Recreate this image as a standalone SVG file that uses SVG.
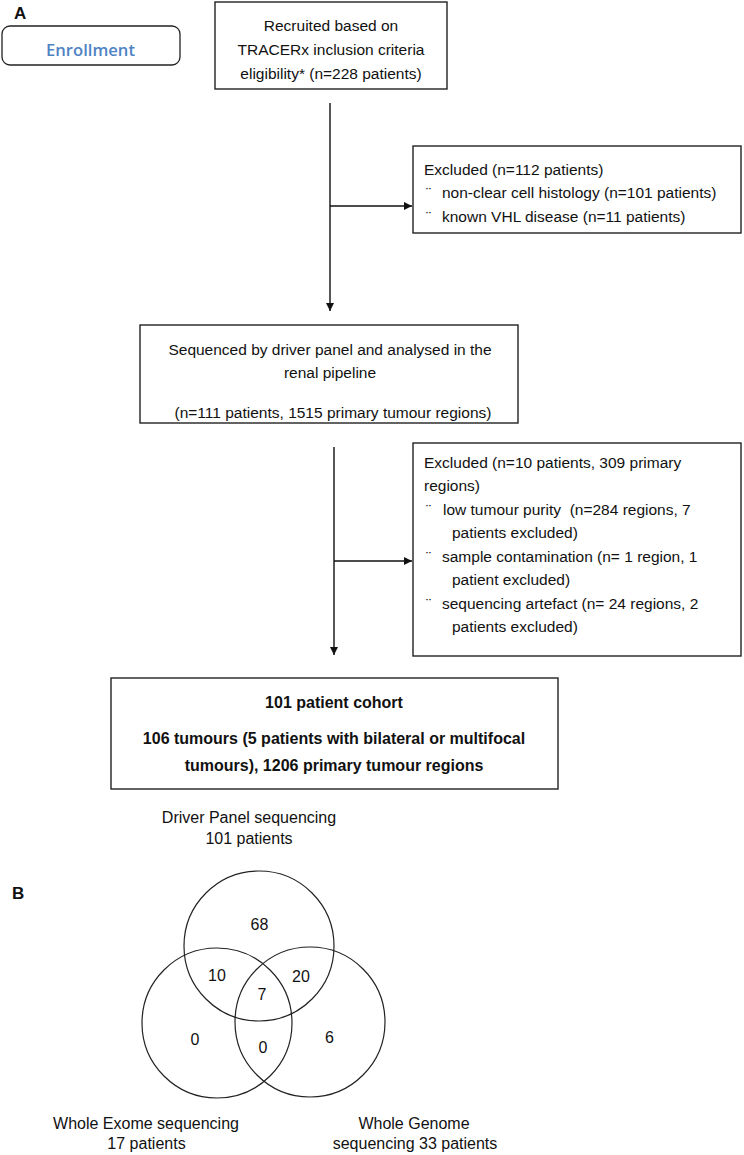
<svg xmlns="http://www.w3.org/2000/svg" width="744" height="1155" viewBox="0 0 744 1155">
<style>
  .bg{fill:#ffffff}
  .box{fill:#ffffff;stroke:#222;stroke-width:1.4}
  .t{font-family:"Liberation Sans",Arial,sans-serif;font-size:15.5px;fill:#111}
  .c{text-anchor:middle}
  .b{font-family:"Liberation Sans",Arial,sans-serif;font-size:16px;font-weight:bold;fill:#111}
  .v{font-family:"Liberation Sans",Arial,sans-serif;font-size:16px;fill:#111;text-anchor:middle}
  .lab{font-family:"Liberation Sans",Arial,sans-serif;font-size:17px;font-weight:bold;fill:#111}
  .pre{white-space:pre}
  .conn{fill:none;stroke:#111;stroke-width:1.4}
  .circ{fill:none;stroke:#222;stroke-width:1.2}
</style>
<defs>
  <marker id="ah" viewBox="0 0 10 10" refX="10" refY="5" markerWidth="8" markerHeight="8" markerUnits="userSpaceOnUse" orient="auto">
    <path d="M0,0 L10,5 L0,10 z" fill="#111"/>
  </marker>
</defs>
<rect class="bg" x="0" y="0" width="744" height="1155"/>

<text class="lab" x="14" y="18.5">A</text>
<text class="lab" x="12" y="898.5">B</text>

<g id="enrollment">
  <rect x="2" y="26" width="178" height="39" rx="8" ry="8" fill="#fff" stroke="#222" stroke-width="1.3"/>
  <text x="90.5" y="55.5" text-anchor="middle" font-family="'Open Sans','Liberation Sans',sans-serif" font-size="17" font-weight="600" fill="#4f83c4" textLength="89" lengthAdjust="spacingAndGlyphs">Enrollment</text>
</g>

<g id="recruited">
  <rect class="box" x="215" y="2" width="232" height="87"/>
  <text class="t c" x="331" y="30.5">Recruited based on</text>
  <text class="t c" x="331" y="54.5">TRACERx inclusion criteria</text>
  <text class="t c" x="331" y="79">eligibility* (n=228 patients)</text>
</g>

<g id="excluded1">
  <rect class="box" x="413" y="146" width="328" height="87"/>
  <text class="t" x="424" y="174.5">Excluded (n=112 patients)</text>
  <text class="t" x="426" y="198">¨</text>
  <text class="t" x="442" y="198">non-clear cell histology (n=101 patients)</text>
  <text class="t" x="426" y="221.5">¨</text>
  <text class="t" x="442" y="221.5">known VHL disease (n=11 patients)</text>
</g>

<g id="sequenced">
  <rect class="box" x="140" y="325" width="378" height="98"/>
  <text class="t c" x="330" y="355">Sequenced by driver panel and analysed in the</text>
  <text class="t c" x="330" y="378">renal pipeline</text>
  <text class="t c" x="333" y="418">(n=111 patients, 1515 primary tumour regions)</text>
</g>

<g id="excluded2">
  <rect class="box" x="413" y="443" width="328" height="213"/>
  <text class="t" x="424" y="467.5">Excluded (n=10 patients, 309 primary</text>
  <text class="t" x="424" y="491">regions)</text>
  <text class="t" x="426" y="514.5">¨</text>
  <text class="t pre" x="443" y="514.5">low tumour purity  (n=284 regions, 7</text>
  <text class="t" x="452" y="538">patients excluded)</text>
  <text class="t" x="426" y="561.5">¨</text>
  <text class="t" x="442" y="561.5">sample contamination (n= 1 region, 1</text>
  <text class="t" x="452" y="585">patient excluded)</text>
  <text class="t" x="426" y="608.5">¨</text>
  <text class="t" x="442" y="608.5">sequencing artefact (n= 24 regions, 2</text>
  <text class="t" x="452" y="632">patients excluded)</text>
</g>

<g id="cohort">
  <rect class="box" x="111" y="678" width="447" height="111"/>
  <text class="b c" x="334" y="708">101 patient cohort</text>
  <text class="b c" x="334" y="744">106 tumours (5 patients with bilateral or multifocal</text>
  <text class="b c" x="334" y="771">tumours), 1206 primary tumour regions</text>
</g>

<g id="connectors">
  <line class="conn" x1="330" y1="103" x2="330" y2="311" marker-end="url(#ah)"/>
  <line class="conn" x1="330" y1="206" x2="412" y2="206" marker-end="url(#ah)"/>
  <line class="conn" x1="334" y1="447" x2="334" y2="655" marker-end="url(#ah)"/>
  <line class="conn" x1="334" y1="561" x2="412" y2="561" marker-end="url(#ah)"/>
</g>

<g id="venn">
  <text class="v" x="249" y="823">Driver Panel sequencing</text>
  <text class="v" x="249" y="843.5">101 patients</text>
  <circle class="circ" cx="259" cy="946" r="75"/>
  <circle class="circ" cx="217" cy="1023" r="75"/>
  <circle class="circ" cx="310" cy="1022" r="75"/>
  <text class="v" x="259.5" y="930">68</text>
  <text class="v" x="217" y="981">10</text>
  <text class="v" x="301" y="982">20</text>
  <text class="v" x="262" y="1000">7</text>
  <text class="v" x="195" y="1045">0</text>
  <text class="v" x="263" y="1053">0</text>
  <text class="v" x="329.5" y="1043">6</text>
  <text class="v" x="146" y="1128.5">Whole Exome sequencing</text>
  <text class="v" x="146.5" y="1148.5">17 patients</text>
  <text class="v" x="414" y="1128.5">Whole Genome</text>
  <text class="v" x="415" y="1149">sequencing 33 patients</text>
</g>
</svg>
